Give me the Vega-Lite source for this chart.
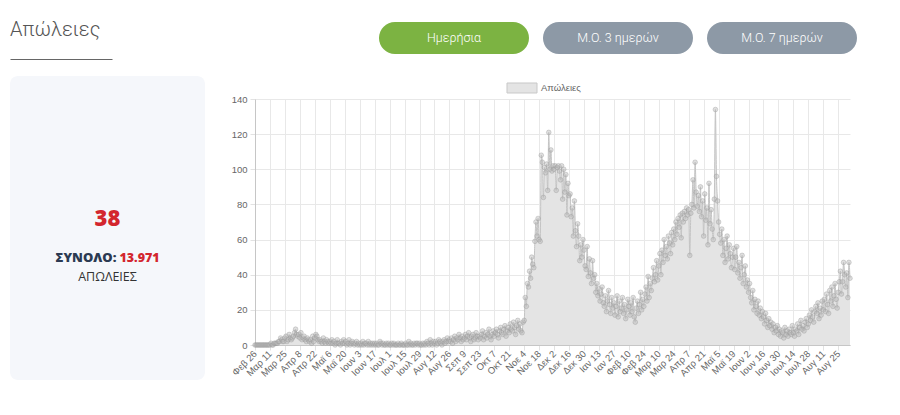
{
  "$schema": "https://vega.github.io/schema/vega-lite/v6.json",
  "background": "white",
  "padding": {"left": 10, "top": 0, "right": 0, "bottom": 0},
  "bounds": "flush",
  "spacing": 245,
  "config": {
    "view": {"stroke": null}
  },
  "datasets": {
    "deaths": [
{"date":"2020-02-26","deaths":0},{"date":"2020-02-27","deaths":0},{"date":"2020-02-28","deaths":0},{"date":"2020-02-29","deaths":0},
{"date":"2020-03-01","deaths":0},{"date":"2020-03-02","deaths":0},{"date":"2020-03-03","deaths":0},{"date":"2020-03-04","deaths":0},{"date":"2020-03-05","deaths":0},{"date":"2020-03-06","deaths":0},{"date":"2020-03-07","deaths":0},{"date":"2020-03-08","deaths":0},{"date":"2020-03-09","deaths":0},{"date":"2020-03-10","deaths":0},
{"date":"2020-03-11","deaths":0},{"date":"2020-03-12","deaths":1},{"date":"2020-03-13","deaths":0},{"date":"2020-03-14","deaths":0},{"date":"2020-03-15","deaths":1},{"date":"2020-03-16","deaths":1},{"date":"2020-03-17","deaths":1},{"date":"2020-03-18","deaths":1},{"date":"2020-03-19","deaths":2},{"date":"2020-03-20","deaths":2},{"date":"2020-03-21","deaths":4},{"date":"2020-03-22","deaths":3},{"date":"2020-03-23","deaths":2},{"date":"2020-03-24","deaths":2},
{"date":"2020-03-25","deaths":4},{"date":"2020-03-26","deaths":5},{"date":"2020-03-27","deaths":2},{"date":"2020-03-28","deaths":3},{"date":"2020-03-29","deaths":6},{"date":"2020-03-30","deaths":4},{"date":"2020-03-31","deaths":3},
{"date":"2020-04-01","deaths":4},{"date":"2020-04-02","deaths":5},{"date":"2020-04-03","deaths":7},{"date":"2020-04-04","deaths":9},{"date":"2020-04-05","deaths":6},{"date":"2020-04-06","deaths":5},{"date":"2020-04-07","deaths":6},
{"date":"2020-04-08","deaths":4},{"date":"2020-04-09","deaths":7},{"date":"2020-04-10","deaths":3},{"date":"2020-04-11","deaths":4},{"date":"2020-04-12","deaths":5},{"date":"2020-04-13","deaths":3},{"date":"2020-04-14","deaths":2},{"date":"2020-04-15","deaths":4},{"date":"2020-04-16","deaths":3},{"date":"2020-04-17","deaths":2},{"date":"2020-04-18","deaths":3},{"date":"2020-04-19","deaths":1},{"date":"2020-04-20","deaths":5},{"date":"2020-04-21","deaths":2},
{"date":"2020-04-22","deaths":4},{"date":"2020-04-23","deaths":6},{"date":"2020-04-24","deaths":5},{"date":"2020-04-25","deaths":3},{"date":"2020-04-26","deaths":2},{"date":"2020-04-27","deaths":3},{"date":"2020-04-28","deaths":2},{"date":"2020-04-29","deaths":1},{"date":"2020-04-30","deaths":4},
{"date":"2020-05-01","deaths":2},{"date":"2020-05-02","deaths":1},{"date":"2020-05-03","deaths":3},{"date":"2020-05-04","deaths":2},{"date":"2020-05-05","deaths":1},
{"date":"2020-05-06","deaths":2},{"date":"2020-05-07","deaths":1},{"date":"2020-05-08","deaths":3},{"date":"2020-05-09","deaths":1},{"date":"2020-05-10","deaths":2},{"date":"2020-05-11","deaths":0},{"date":"2020-05-12","deaths":1},{"date":"2020-05-13","deaths":3},{"date":"2020-05-14","deaths":1},{"date":"2020-05-15","deaths":1},{"date":"2020-05-16","deaths":0},{"date":"2020-05-17","deaths":2},{"date":"2020-05-18","deaths":1},{"date":"2020-05-19","deaths":3},
{"date":"2020-05-20","deaths":1},{"date":"2020-05-21","deaths":2},{"date":"2020-05-22","deaths":0},{"date":"2020-05-23","deaths":1},{"date":"2020-05-24","deaths":3},{"date":"2020-05-25","deaths":0},{"date":"2020-05-26","deaths":1},{"date":"2020-05-27","deaths":2},{"date":"2020-05-28","deaths":1},{"date":"2020-05-29","deaths":0},{"date":"2020-05-30","deaths":1},{"date":"2020-05-31","deaths":2},
{"date":"2020-06-01","deaths":0},{"date":"2020-06-02","deaths":1},
{"date":"2020-06-03","deaths":0},{"date":"2020-06-04","deaths":1},{"date":"2020-06-05","deaths":0},{"date":"2020-06-06","deaths":2},{"date":"2020-06-07","deaths":0},{"date":"2020-06-08","deaths":1},{"date":"2020-06-09","deaths":1},{"date":"2020-06-10","deaths":0},{"date":"2020-06-11","deaths":2},{"date":"2020-06-12","deaths":0},{"date":"2020-06-13","deaths":1},{"date":"2020-06-14","deaths":0},{"date":"2020-06-15","deaths":1},{"date":"2020-06-16","deaths":0},
{"date":"2020-06-17","deaths":1},{"date":"2020-06-18","deaths":0},{"date":"2020-06-19","deaths":1},{"date":"2020-06-20","deaths":0},{"date":"2020-06-21","deaths":0},{"date":"2020-06-22","deaths":2},{"date":"2020-06-23","deaths":1},{"date":"2020-06-24","deaths":0},{"date":"2020-06-25","deaths":1},{"date":"2020-06-26","deaths":0},{"date":"2020-06-27","deaths":0},{"date":"2020-06-28","deaths":1},{"date":"2020-06-29","deaths":0},{"date":"2020-06-30","deaths":1},
{"date":"2020-07-01","deaths":0},{"date":"2020-07-02","deaths":0},{"date":"2020-07-03","deaths":1},{"date":"2020-07-04","deaths":0},{"date":"2020-07-05","deaths":1},{"date":"2020-07-06","deaths":0},{"date":"2020-07-07","deaths":0},{"date":"2020-07-08","deaths":0},{"date":"2020-07-09","deaths":1},{"date":"2020-07-10","deaths":0},{"date":"2020-07-11","deaths":0},{"date":"2020-07-12","deaths":1},{"date":"2020-07-13","deaths":0},{"date":"2020-07-14","deaths":0},
{"date":"2020-07-15","deaths":0},{"date":"2020-07-16","deaths":1},{"date":"2020-07-17","deaths":0},{"date":"2020-07-18","deaths":0},{"date":"2020-07-19","deaths":2},{"date":"2020-07-20","deaths":0},{"date":"2020-07-21","deaths":1},{"date":"2020-07-22","deaths":0},{"date":"2020-07-23","deaths":0},{"date":"2020-07-24","deaths":1},{"date":"2020-07-25","deaths":0},{"date":"2020-07-26","deaths":1},{"date":"2020-07-27","deaths":1},{"date":"2020-07-28","deaths":0},
{"date":"2020-07-29","deaths":1},{"date":"2020-07-30","deaths":0},{"date":"2020-07-31","deaths":0},
{"date":"2020-08-01","deaths":1},{"date":"2020-08-02","deaths":0},{"date":"2020-08-03","deaths":1},{"date":"2020-08-04","deaths":0},{"date":"2020-08-05","deaths":2},{"date":"2020-08-06","deaths":1},{"date":"2020-08-07","deaths":0},{"date":"2020-08-08","deaths":3},{"date":"2020-08-09","deaths":1},{"date":"2020-08-10","deaths":0},{"date":"2020-08-11","deaths":2},
{"date":"2020-08-12","deaths":1},{"date":"2020-08-13","deaths":2},{"date":"2020-08-14","deaths":0},{"date":"2020-08-15","deaths":1},{"date":"2020-08-16","deaths":3},{"date":"2020-08-17","deaths":2},{"date":"2020-08-18","deaths":1},{"date":"2020-08-19","deaths":0},{"date":"2020-08-20","deaths":2},{"date":"2020-08-21","deaths":3},{"date":"2020-08-22","deaths":1},{"date":"2020-08-23","deaths":2},{"date":"2020-08-24","deaths":4},{"date":"2020-08-25","deaths":2},
{"date":"2020-08-26","deaths":3},{"date":"2020-08-27","deaths":2},{"date":"2020-08-28","deaths":4},{"date":"2020-08-29","deaths":1},{"date":"2020-08-30","deaths":3},{"date":"2020-08-31","deaths":5},
{"date":"2020-09-01","deaths":2},{"date":"2020-09-02","deaths":4},{"date":"2020-09-03","deaths":3},{"date":"2020-09-04","deaths":6},{"date":"2020-09-05","deaths":4},{"date":"2020-09-06","deaths":2},{"date":"2020-09-07","deaths":5},{"date":"2020-09-08","deaths":3},
{"date":"2020-09-09","deaths":4},{"date":"2020-09-10","deaths":6},{"date":"2020-09-11","deaths":3},{"date":"2020-09-12","deaths":5},{"date":"2020-09-13","deaths":7},{"date":"2020-09-14","deaths":4},{"date":"2020-09-15","deaths":2},{"date":"2020-09-16","deaths":5},{"date":"2020-09-17","deaths":6},{"date":"2020-09-18","deaths":3},{"date":"2020-09-19","deaths":4},{"date":"2020-09-20","deaths":7},{"date":"2020-09-21","deaths":5},{"date":"2020-09-22","deaths":3},
{"date":"2020-09-23","deaths":5},{"date":"2020-09-24","deaths":4},{"date":"2020-09-25","deaths":6},{"date":"2020-09-26","deaths":8},{"date":"2020-09-27","deaths":3},{"date":"2020-09-28","deaths":5},{"date":"2020-09-29","deaths":7},{"date":"2020-09-30","deaths":4},
{"date":"2020-10-01","deaths":6},{"date":"2020-10-02","deaths":9},{"date":"2020-10-03","deaths":5},{"date":"2020-10-04","deaths":3},{"date":"2020-10-05","deaths":6},{"date":"2020-10-06","deaths":8},
{"date":"2020-10-07","deaths":5},{"date":"2020-10-08","deaths":7},{"date":"2020-10-09","deaths":9},{"date":"2020-10-10","deaths":6},{"date":"2020-10-11","deaths":4},{"date":"2020-10-12","deaths":8},{"date":"2020-10-13","deaths":10},{"date":"2020-10-14","deaths":7},{"date":"2020-10-15","deaths":6},{"date":"2020-10-16","deaths":9},{"date":"2020-10-17","deaths":11},{"date":"2020-10-18","deaths":5},{"date":"2020-10-19","deaths":8},{"date":"2020-10-20","deaths":10},
{"date":"2020-10-21","deaths":7},{"date":"2020-10-22","deaths":12},{"date":"2020-10-23","deaths":9},{"date":"2020-10-24","deaths":8},{"date":"2020-10-25","deaths":13},{"date":"2020-10-26","deaths":10},{"date":"2020-10-27","deaths":6},{"date":"2020-10-28","deaths":11},{"date":"2020-10-29","deaths":14},{"date":"2020-10-30","deaths":9},{"date":"2020-10-31","deaths":12},
{"date":"2020-11-01","deaths":8},{"date":"2020-11-02","deaths":7},{"date":"2020-11-03","deaths":13},
{"date":"2020-11-04","deaths":14},{"date":"2020-11-05","deaths":27},{"date":"2020-11-06","deaths":22},{"date":"2020-11-07","deaths":35},{"date":"2020-11-08","deaths":33},{"date":"2020-11-09","deaths":42},{"date":"2020-11-10","deaths":38},{"date":"2020-11-11","deaths":50},{"date":"2020-11-12","deaths":46},{"date":"2020-11-13","deaths":44},{"date":"2020-11-14","deaths":59},{"date":"2020-11-15","deaths":70},{"date":"2020-11-16","deaths":62},{"date":"2020-11-17","deaths":72},
{"date":"2020-11-18","deaths":60},{"date":"2020-11-19","deaths":59},{"date":"2020-11-20","deaths":108},{"date":"2020-11-21","deaths":104},{"date":"2020-11-22","deaths":84},{"date":"2020-11-23","deaths":101},{"date":"2020-11-24","deaths":98},{"date":"2020-11-25","deaths":103},{"date":"2020-11-26","deaths":88},{"date":"2020-11-27","deaths":121},{"date":"2020-11-28","deaths":100},{"date":"2020-11-29","deaths":111},{"date":"2020-11-30","deaths":99},
{"date":"2020-12-01","deaths":102},
{"date":"2020-12-02","deaths":100},{"date":"2020-12-03","deaths":102},{"date":"2020-12-04","deaths":88},{"date":"2020-12-05","deaths":101},{"date":"2020-12-06","deaths":102},{"date":"2020-12-07","deaths":99},{"date":"2020-12-08","deaths":94},{"date":"2020-12-09","deaths":102},{"date":"2020-12-10","deaths":83},{"date":"2020-12-11","deaths":100},{"date":"2020-12-12","deaths":87},{"date":"2020-12-13","deaths":97},{"date":"2020-12-14","deaths":74},{"date":"2020-12-15","deaths":92},
{"date":"2020-12-16","deaths":85},{"date":"2020-12-17","deaths":86},{"date":"2020-12-18","deaths":73},{"date":"2020-12-19","deaths":78},{"date":"2020-12-20","deaths":62},{"date":"2020-12-21","deaths":82},{"date":"2020-12-22","deaths":65},{"date":"2020-12-23","deaths":56},{"date":"2020-12-24","deaths":69},{"date":"2020-12-25","deaths":62},{"date":"2020-12-26","deaths":48},{"date":"2020-12-27","deaths":57},{"date":"2020-12-28","deaths":50},{"date":"2020-12-29","deaths":60},
{"date":"2020-12-30","deaths":54},{"date":"2020-12-31","deaths":45},
{"date":"2021-01-01","deaths":43},{"date":"2021-01-02","deaths":56},{"date":"2021-01-03","deaths":39},{"date":"2021-01-04","deaths":49},{"date":"2021-01-05","deaths":41},{"date":"2021-01-06","deaths":35},{"date":"2021-01-07","deaths":48},{"date":"2021-01-08","deaths":38},{"date":"2021-01-09","deaths":40},{"date":"2021-01-10","deaths":30},{"date":"2021-01-11","deaths":35},{"date":"2021-01-12","deaths":28},
{"date":"2021-01-13","deaths":32},{"date":"2021-01-14","deaths":25},{"date":"2021-01-15","deaths":29},{"date":"2021-01-16","deaths":33},{"date":"2021-01-17","deaths":24},{"date":"2021-01-18","deaths":22},{"date":"2021-01-19","deaths":28},{"date":"2021-01-20","deaths":19},{"date":"2021-01-21","deaths":25},{"date":"2021-01-22","deaths":31},{"date":"2021-01-23","deaths":23},{"date":"2021-01-24","deaths":18},{"date":"2021-01-25","deaths":27},{"date":"2021-01-26","deaths":21},
{"date":"2021-01-27","deaths":24},{"date":"2021-01-28","deaths":17},{"date":"2021-01-29","deaths":22},{"date":"2021-01-30","deaths":28},{"date":"2021-01-31","deaths":16},
{"date":"2021-02-01","deaths":25},{"date":"2021-02-02","deaths":19},{"date":"2021-02-03","deaths":21},{"date":"2021-02-04","deaths":27},{"date":"2021-02-05","deaths":18},{"date":"2021-02-06","deaths":23},{"date":"2021-02-07","deaths":15},{"date":"2021-02-08","deaths":20},{"date":"2021-02-09","deaths":26},
{"date":"2021-02-10","deaths":22},{"date":"2021-02-11","deaths":17},{"date":"2021-02-12","deaths":24},{"date":"2021-02-13","deaths":19},{"date":"2021-02-14","deaths":27},{"date":"2021-02-15","deaths":16},{"date":"2021-02-16","deaths":13},{"date":"2021-02-17","deaths":21},{"date":"2021-02-18","deaths":25},{"date":"2021-02-19","deaths":18},{"date":"2021-02-20","deaths":23},{"date":"2021-02-21","deaths":30},{"date":"2021-02-22","deaths":20},{"date":"2021-02-23","deaths":26},
{"date":"2021-02-24","deaths":22},{"date":"2021-02-25","deaths":29},{"date":"2021-02-26","deaths":33},{"date":"2021-02-27","deaths":25},{"date":"2021-02-28","deaths":39},
{"date":"2021-03-01","deaths":27},{"date":"2021-03-02","deaths":35},{"date":"2021-03-03","deaths":31},{"date":"2021-03-04","deaths":38},{"date":"2021-03-05","deaths":44},{"date":"2021-03-06","deaths":36},{"date":"2021-03-07","deaths":40},{"date":"2021-03-08","deaths":48},{"date":"2021-03-09","deaths":37},
{"date":"2021-03-10","deaths":45},{"date":"2021-03-11","deaths":52},{"date":"2021-03-12","deaths":40},{"date":"2021-03-13","deaths":54},{"date":"2021-03-14","deaths":47},{"date":"2021-03-15","deaths":60},{"date":"2021-03-16","deaths":51},{"date":"2021-03-17","deaths":56},{"date":"2021-03-18","deaths":49},{"date":"2021-03-19","deaths":62},{"date":"2021-03-20","deaths":58},{"date":"2021-03-21","deaths":52},{"date":"2021-03-22","deaths":64},{"date":"2021-03-23","deaths":57},
{"date":"2021-03-24","deaths":66},{"date":"2021-03-25","deaths":60},{"date":"2021-03-26","deaths":70},{"date":"2021-03-27","deaths":63},{"date":"2021-03-28","deaths":72},{"date":"2021-03-29","deaths":67},{"date":"2021-03-30","deaths":74},{"date":"2021-03-31","deaths":61},
{"date":"2021-04-01","deaths":75},{"date":"2021-04-02","deaths":70},{"date":"2021-04-03","deaths":76},{"date":"2021-04-04","deaths":72},{"date":"2021-04-05","deaths":78},{"date":"2021-04-06","deaths":74},
{"date":"2021-04-07","deaths":77},{"date":"2021-04-08","deaths":51},{"date":"2021-04-09","deaths":75},{"date":"2021-04-10","deaths":80},{"date":"2021-04-11","deaths":94},{"date":"2021-04-12","deaths":78},{"date":"2021-04-13","deaths":104},{"date":"2021-04-14","deaths":87},{"date":"2021-04-15","deaths":79},{"date":"2021-04-16","deaths":85},{"date":"2021-04-17","deaths":76},{"date":"2021-04-18","deaths":90},{"date":"2021-04-19","deaths":73},{"date":"2021-04-20","deaths":82},
{"date":"2021-04-21","deaths":62},{"date":"2021-04-22","deaths":86},{"date":"2021-04-23","deaths":71},{"date":"2021-04-24","deaths":78},{"date":"2021-04-25","deaths":57},{"date":"2021-04-26","deaths":92},{"date":"2021-04-27","deaths":69},{"date":"2021-04-28","deaths":77},{"date":"2021-04-29","deaths":66},{"date":"2021-04-30","deaths":60},
{"date":"2021-05-01","deaths":83},{"date":"2021-05-02","deaths":134},{"date":"2021-05-03","deaths":96},{"date":"2021-05-04","deaths":82},
{"date":"2021-05-05","deaths":70},{"date":"2021-05-06","deaths":63},{"date":"2021-05-07","deaths":58},{"date":"2021-05-08","deaths":66},{"date":"2021-05-09","deaths":51},{"date":"2021-05-10","deaths":60},{"date":"2021-05-11","deaths":47},{"date":"2021-05-12","deaths":55},{"date":"2021-05-13","deaths":62},{"date":"2021-05-14","deaths":49},{"date":"2021-05-15","deaths":57},{"date":"2021-05-16","deaths":52},{"date":"2021-05-17","deaths":44},{"date":"2021-05-18","deaths":50},
{"date":"2021-05-19","deaths":55},{"date":"2021-05-20","deaths":43},{"date":"2021-05-21","deaths":50},{"date":"2021-05-22","deaths":56},{"date":"2021-05-23","deaths":41},{"date":"2021-05-24","deaths":47},{"date":"2021-05-25","deaths":38},{"date":"2021-05-26","deaths":44},{"date":"2021-05-27","deaths":51},{"date":"2021-05-28","deaths":35},{"date":"2021-05-29","deaths":40},{"date":"2021-05-30","deaths":45},{"date":"2021-05-31","deaths":33},
{"date":"2021-06-01","deaths":37},
{"date":"2021-06-02","deaths":30},{"date":"2021-06-03","deaths":35},{"date":"2021-06-04","deaths":27},{"date":"2021-06-05","deaths":24},{"date":"2021-06-06","deaths":31},{"date":"2021-06-07","deaths":20},{"date":"2021-06-08","deaths":26},{"date":"2021-06-09","deaths":22},{"date":"2021-06-10","deaths":18},{"date":"2021-06-11","deaths":25},{"date":"2021-06-12","deaths":17},{"date":"2021-06-13","deaths":21},{"date":"2021-06-14","deaths":15},{"date":"2021-06-15","deaths":19},
{"date":"2021-06-16","deaths":16},{"date":"2021-06-17","deaths":12},{"date":"2021-06-18","deaths":18},{"date":"2021-06-19","deaths":14},{"date":"2021-06-20","deaths":10},{"date":"2021-06-21","deaths":15},{"date":"2021-06-22","deaths":11},{"date":"2021-06-23","deaths":13},{"date":"2021-06-24","deaths":9},{"date":"2021-06-25","deaths":12},{"date":"2021-06-26","deaths":7},{"date":"2021-06-27","deaths":10},{"date":"2021-06-28","deaths":8},{"date":"2021-06-29","deaths":11},
{"date":"2021-06-30","deaths":6},
{"date":"2021-07-01","deaths":9},{"date":"2021-07-02","deaths":5},{"date":"2021-07-03","deaths":8},{"date":"2021-07-04","deaths":7},{"date":"2021-07-05","deaths":4},{"date":"2021-07-06","deaths":10},{"date":"2021-07-07","deaths":6},{"date":"2021-07-08","deaths":8},{"date":"2021-07-09","deaths":5},{"date":"2021-07-10","deaths":9},{"date":"2021-07-11","deaths":7},{"date":"2021-07-12","deaths":6},{"date":"2021-07-13","deaths":11},
{"date":"2021-07-14","deaths":7},{"date":"2021-07-15","deaths":5},{"date":"2021-07-16","deaths":9},{"date":"2021-07-17","deaths":8},{"date":"2021-07-18","deaths":12},{"date":"2021-07-19","deaths":6},{"date":"2021-07-20","deaths":10},{"date":"2021-07-21","deaths":14},{"date":"2021-07-22","deaths":9},{"date":"2021-07-23","deaths":11},{"date":"2021-07-24","deaths":8},{"date":"2021-07-25","deaths":13},{"date":"2021-07-26","deaths":15},{"date":"2021-07-27","deaths":10},
{"date":"2021-07-28","deaths":12},{"date":"2021-07-29","deaths":17},{"date":"2021-07-30","deaths":14},{"date":"2021-07-31","deaths":20},
{"date":"2021-08-01","deaths":16},{"date":"2021-08-02","deaths":13},{"date":"2021-08-03","deaths":19},{"date":"2021-08-04","deaths":22},{"date":"2021-08-05","deaths":18},{"date":"2021-08-06","deaths":24},{"date":"2021-08-07","deaths":15},{"date":"2021-08-08","deaths":21},{"date":"2021-08-09","deaths":17},{"date":"2021-08-10","deaths":25},
{"date":"2021-08-11","deaths":20},{"date":"2021-08-12","deaths":26},{"date":"2021-08-13","deaths":19},{"date":"2021-08-14","deaths":29},{"date":"2021-08-15","deaths":23},{"date":"2021-08-16","deaths":18},{"date":"2021-08-17","deaths":31},{"date":"2021-08-18","deaths":25},{"date":"2021-08-19","deaths":33},{"date":"2021-08-20","deaths":22},{"date":"2021-08-21","deaths":28},{"date":"2021-08-22","deaths":35},{"date":"2021-08-23","deaths":26},{"date":"2021-08-24","deaths":21},
{"date":"2021-08-25","deaths":30},{"date":"2021-08-26","deaths":36},{"date":"2021-08-27","deaths":42},{"date":"2021-08-28","deaths":29},{"date":"2021-08-29","deaths":36},{"date":"2021-08-30","deaths":47},{"date":"2021-08-31","deaths":40},
{"date":"2021-09-01","deaths":33},{"date":"2021-09-02","deaths":41},{"date":"2021-09-03","deaths":27},{"date":"2021-09-04","deaths":47},{"date":"2021-09-05","deaths":38}
    ]
  },
  "hconcat": [
    {
      "bounds": "flush",
      "spacing": 17,
      "vconcat": [
        {
          "width": 102,
          "height": 59,
          "data": {"values": [{"heading": "Απώλειες"}]},
          "mark": {"type": "text", "align": "left", "baseline": "middle", "font": "Roboto", "fontSize": 20, "fontWeight": 300, "color": "#555555"},
          "encoding": {
            "text": {"field": "heading"},
            "x": {
              "field": "heading", "type": "nominal",
              "scale": {"type": "point", "padding": 0, "align": 0},
              "axis": {"title": null, "labels": false, "ticks": false, "grid": false, "domain": true, "domainColor": "#666666", "domainWidth": 1.2}
            }
          }
        },
        {
          "width": 195,
          "height": 304,
          "view": {"fill": "#f5f7fb", "stroke": null, "cornerRadius": 8},
          "data": {"values": [
            {"line": 1, "part": "center", "label": "38"},
            {"line": 3, "part": "left", "label": "ΣΥΝΟΛΟ:"},
            {"line": 3, "part": "right", "label": "13.971"},
            {"line": 4, "part": "center", "label": "ΑΠΩΛΕΙΕΣ"}
          ]},
          "encoding": {
            "y": {"field": "line", "type": "quantitative", "scale": {"domain": [-6.318, 9.272], "reverse": true, "nice": false, "zero": false}, "axis": null},
            "text": {"field": "label"}
          },
          "layer": [
            {
              "transform": [{"filter": "datum.line === 1"}],
              "mark": {"type": "text", "baseline": "middle", "font": "Open Sans", "fontSize": 22, "fontWeight": 800, "color": "#d3262e"}
            },
            {
              "transform": [{"filter": "datum.part === 'left'"}],
              "mark": {"type": "text", "baseline": "middle", "font": "Open Sans", "fontSize": 13, "fontWeight": 800, "color": "#2b3a52"},
              "encoding": {"x": {"field": "part", "type": "nominal", "scale": {"type": "band", "domain": ["left", "right"], "paddingInner": 0, "paddingOuter": 0.8224, "align": 0.5597}, "axis": null}}
            },
            {
              "transform": [{"filter": "datum.part === 'right'"}],
              "mark": {"type": "text", "baseline": "middle", "font": "Open Sans", "fontSize": 12.5, "fontWeight": 800, "color": "#d3262e"},
              "encoding": {"x": {"field": "part", "type": "nominal", "scale": {"type": "band", "domain": ["left", "right"], "paddingInner": 0, "paddingOuter": 0.8224, "align": 0.5597}, "axis": null}}
            },
            {
              "transform": [{"filter": "datum.line === 4"}],
              "mark": {"type": "text", "baseline": "middle", "font": "Open Sans", "fontSize": 12.5, "fontWeight": 400, "color": "#333333"}
            }
          ]
        }
      ]
    },
    {
      "bounds": "flush",
      "spacing": 4,
      "vconcat": [
        {
          "width": 602,
          "height": 95,
          "resolve": {"scale": {"x": "independent", "y": "independent", "color": "independent"}},
          "layer": [
            {
              "data": {"values": [
                {"button": "Ημερήσια", "state": "active"},
                {"button": "Μ.Ο. 3 ημερών", "state": "idle"},
                {"button": "Μ.Ο. 7 ημερών", "state": "idle"}
              ]},
              "encoding": {
                "x": {"field": "button", "type": "nominal", "scale": {"type": "band", "domain": ["Ημερήσια", "Μ.Ο. 3 ημερών", "Μ.Ο. 7 ημερών"], "paddingInner": 0.08537, "paddingOuter": 0.378, "align": 1}, "axis": null},
                "y": {"datum": "buttons", "type": "nominal", "scale": {"type": "band", "domain": ["buttons"], "paddingInner": 0, "paddingOuter": 0.984375, "align": 0.3492}, "axis": null}
              },
              "layer": [
                {
                  "mark": {"type": "bar", "cornerRadius": 16},
                  "encoding": {
                    "color": {"field": "state", "type": "nominal", "scale": {"domain": ["active", "idle"], "range": ["#7cb342", "#8d99a6"]}, "legend": null}
                  }
                },
                {
                  "mark": {"type": "text", "font": "Roboto", "fontSize": 12.5, "fontWeight": 300, "color": "#ffffff"},
                  "encoding": {"text": {"field": "button"}}
                }
              ]
            },
            {
              "data": {"values": [{"series": "Απώλειες"}]},
              "mark": {"type": "rect", "fill": "#e4e4e4", "stroke": "#c8c8c8", "strokeWidth": 1},
              "encoding": {
                "x": {"field": "series", "type": "nominal", "scale": {"type": "band", "paddingInner": 0.8951, "paddingOuter": 1, "align": 0.44056}, "axis": null},
                "y": {"field": "series", "type": "nominal", "scale": {"type": "band", "paddingInner": 0.7647, "paddingOuter": 1, "align": 0.97647}, "axis": null}
              }
            },
            {
              "data": {"values": [{"series": "Απώλειες"}]},
              "mark": {"type": "text", "align": "left", "baseline": "middle", "font": "Liberation Sans", "fontSize": 9.5, "color": "#666666"},
              "encoding": {
                "x": {"field": "series", "type": "nominal", "scale": {"type": "point", "padding": 0, "align": 0.4751}, "axis": null},
                "y": {"field": "series", "type": "nominal", "scale": {"type": "band", "paddingInner": 0.7647, "paddingOuter": 1, "align": 0.97647}, "axis": null},
                "text": {"field": "series"}
              }
            }
          ]
        },
        {
          "width": 595,
          "height": 246,
          "data": {"name": "deaths"},
          "encoding": {
            "x": {
              "field": "date", "type": "temporal",
              "scale": {"type": "utc", "nice": false, "domain": [{"year": 2020, "month": 2, "date": 26, "utc": true}, {"year": 2021, "month": 9, "date": 5, "utc": true}]},
              "axis": {
                "title": null,
                "values": [
                  {"year": 2020, "month": 2, "date": 26, "utc": true}, {"year": 2020, "month": 3, "date": 11, "utc": true}, {"year": 2020, "month": 3, "date": 25, "utc": true},
                  {"year": 2020, "month": 4, "date": 8, "utc": true}, {"year": 2020, "month": 4, "date": 22, "utc": true}, {"year": 2020, "month": 5, "date": 6, "utc": true},
                  {"year": 2020, "month": 5, "date": 20, "utc": true}, {"year": 2020, "month": 6, "date": 3, "utc": true}, {"year": 2020, "month": 6, "date": 17, "utc": true},
                  {"year": 2020, "month": 7, "date": 1, "utc": true}, {"year": 2020, "month": 7, "date": 15, "utc": true}, {"year": 2020, "month": 7, "date": 29, "utc": true},
                  {"year": 2020, "month": 8, "date": 12, "utc": true}, {"year": 2020, "month": 8, "date": 26, "utc": true}, {"year": 2020, "month": 9, "date": 9, "utc": true},
                  {"year": 2020, "month": 9, "date": 23, "utc": true}, {"year": 2020, "month": 10, "date": 7, "utc": true}, {"year": 2020, "month": 10, "date": 21, "utc": true},
                  {"year": 2020, "month": 11, "date": 4, "utc": true}, {"year": 2020, "month": 11, "date": 18, "utc": true}, {"year": 2020, "month": 12, "date": 2, "utc": true},
                  {"year": 2020, "month": 12, "date": 16, "utc": true}, {"year": 2020, "month": 12, "date": 30, "utc": true}, {"year": 2021, "month": 1, "date": 13, "utc": true},
                  {"year": 2021, "month": 1, "date": 27, "utc": true}, {"year": 2021, "month": 2, "date": 10, "utc": true}, {"year": 2021, "month": 2, "date": 24, "utc": true},
                  {"year": 2021, "month": 3, "date": 10, "utc": true}, {"year": 2021, "month": 3, "date": 24, "utc": true}, {"year": 2021, "month": 4, "date": 7, "utc": true},
                  {"year": 2021, "month": 4, "date": 21, "utc": true}, {"year": 2021, "month": 5, "date": 5, "utc": true}, {"year": 2021, "month": 5, "date": 19, "utc": true},
                  {"year": 2021, "month": 6, "date": 2, "utc": true}, {"year": 2021, "month": 6, "date": 16, "utc": true}, {"year": 2021, "month": 6, "date": 30, "utc": true},
                  {"year": 2021, "month": 7, "date": 14, "utc": true}, {"year": 2021, "month": 7, "date": 28, "utc": true}, {"year": 2021, "month": 8, "date": 11, "utc": true},
                  {"year": 2021, "month": 8, "date": 25, "utc": true}
                ],
                "labelExpr": "['Ιαν','Φεβ','Μαρ','Απρ','Μαϊ','Ιουν','Ιουλ','Αυγ','Σεπ','Οκτ','Νοε','Δεκ'][utcmonth(datum.value)] + ' ' + utcdate(datum.value)",
                "labelAngle": -45,
                "labelAlign": "right",
                "labelBaseline": "middle",
                "labelOverlap": false,
                "labelFlush": false,
                "labelFont": "Liberation Sans",
                "labelFontSize": 9.5,
                "labelColor": "#666666",
                "labelPadding": 2,
                "tickSize": 5,
                "tickColor": "#e2e2e2",
                "grid": true,
                "gridColor": "#e8e8e8",
                "domainColor": "#c6c6c6"
              }
            },
            "y": {
              "field": "deaths", "type": "quantitative",
              "scale": {"domain": [0, 140], "nice": false},
              "axis": {
                "title": null,
                "values": [0, 20, 40, 60, 80, 100, 120, 140],
                "labelFont": "Liberation Sans",
                "labelFontSize": 9.5,
                "labelColor": "#666666",
                "labelPadding": 3,
                "tickSize": 5,
                "tickColor": "#e2e2e2",
                "grid": true,
                "gridColor": "#e8e8e8",
                "domainColor": "#c6c6c6"
              }
            }
          },
          "layer": [
            {
              "mark": {"type": "area", "interpolate": "monotone", "color": "#e4e4e4"},
              "encoding": {}
            },
            {
              "mark": {"type": "line", "interpolate": "monotone", "color": "#c4c4c4", "strokeWidth": 1},
              "encoding": {}
            },
            {
              "mark": {"type": "point", "filled": true, "size": 22, "color": "#b8b8b8", "fillOpacity": 0.45, "stroke": "#959595", "strokeWidth": 0.8, "strokeOpacity": 0.45},
              "encoding": {}
            }
          ]
        }
      ]
    }
  ]
}
